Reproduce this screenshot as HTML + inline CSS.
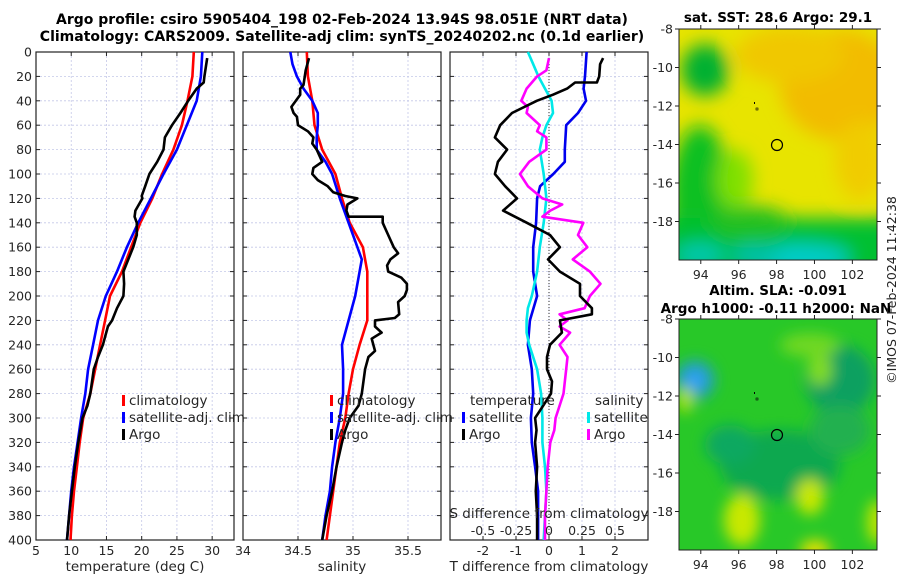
<!DOCTYPE html>
<html><head><meta charset="utf-8"><style>
html,body{margin:0;padding:0;background:#fff;}
svg{display:block;font-family:"DejaVu Sans","Liberation Sans",sans-serif;}
</style></head><body>
<svg id="fig" width="900" height="580" viewBox="0 0 900 580" xmlns="http://www.w3.org/2000/svg">
<defs>
<filter id="blur1" x="-20%" y="-20%" width="140%" height="140%"><feGaussianBlur stdDeviation="9"/></filter>
<filter id="blur2" x="-20%" y="-20%" width="140%" height="140%"><feGaussianBlur stdDeviation="7"/></filter>
<clipPath id="cm1"><rect x="679" y="29" width="198" height="231"/></clipPath>
<clipPath id="cm2"><rect x="679" y="319" width="198" height="231"/></clipPath>
</defs>
<text x="342" y="24" text-anchor="middle" font-size="14" font-weight="bold">Argo profile: csiro 5905404_198 02-Feb-2024 13.94S 98.051E (NRT data)</text>
<text x="342" y="41" text-anchor="middle" font-size="14" font-weight="bold">Climatology: CARS2009. Satellite-adj clim: synTS_20240202.nc (0.1d earlier)</text>

<g clip-path="url(#cm1)">
<rect x="679" y="29" width="198" height="231" fill="#e8e400"/>
<g filter="url(#blur1)">
<ellipse cx="840" cy="85" rx="60" ry="55" fill="#f2bc00"/>
<ellipse cx="790" cy="55" rx="55" ry="28" fill="#f0c800"/>
<ellipse cx="860" cy="160" rx="25" ry="40" fill="#f0cc00"/>
<ellipse cx="705" cy="70" rx="24" ry="26" fill="#00b030"/>
<ellipse cx="700" cy="195" rx="30" ry="70" fill="#10c020"/>
<ellipse cx="735" cy="180" rx="18" ry="30" fill="#80e000"/>
<rect x="660" y="218" width="240" height="60" fill="#00c030"/>
<ellipse cx="750" cy="222" rx="40" ry="16" fill="#20c020"/>
<ellipse cx="800" cy="258" rx="50" ry="14" fill="#00cccc"/>
<ellipse cx="700" cy="255" rx="25" ry="12" fill="#00c8b0"/>
<ellipse cx="755" cy="255" rx="25" ry="10" fill="#00c0b0"/>
</g>
<circle cx="777" cy="145" r="5.5" fill="none" stroke="#000" stroke-width="1.2"/>
<rect x="754" y="102" width="1" height="2" fill="#000"/><rect x="756" y="108" width="2" height="2" fill="none" stroke="#000" stroke-width="0.6"/>
</g>
<rect x="679" y="29" width="198" height="231" fill="none" stroke="#222" stroke-width="1"/>
<text x="778" y="22" text-anchor="middle" font-size="13.5" font-weight="bold">sat. SST: 28.6 Argo: 29.1</text>

<g clip-path="url(#cm2)">
<rect x="679" y="319" width="198" height="231" fill="#28c828"/>
<g filter="url(#blur2)">
<ellipse cx="695" cy="380" rx="20" ry="20" fill="#20a0c0"/>
<ellipse cx="695" cy="380" rx="9" ry="9" fill="#30a0ff"/>
<ellipse cx="840" cy="380" rx="35" ry="35" fill="#10a060"/>
<ellipse cx="780" cy="465" rx="60" ry="35" fill="#10a850"/>
<ellipse cx="730" cy="445" rx="25" ry="20" fill="#10a860"/>
<ellipse cx="810" cy="345" rx="30" ry="12" fill="#70d820"/>
<ellipse cx="820" cy="370" rx="12" ry="16" fill="#80dc20"/>
<ellipse cx="810" cy="497" rx="14" ry="18" fill="#c8e800"/>
<ellipse cx="742" cy="520" rx="18" ry="26" fill="#c8e800"/>
<ellipse cx="685" cy="400" rx="8" ry="13" fill="#b0e400"/>
<ellipse cx="877" cy="522" rx="10" ry="22" fill="#c0e400"/>
<ellipse cx="815" cy="550" rx="15" ry="10" fill="#e8e000"/>
<ellipse cx="840" cy="430" rx="30" ry="25" fill="#20b050"/>
</g>
<circle cx="777" cy="435" r="5.5" fill="none" stroke="#000" stroke-width="1.2"/>
<rect x="754" y="392" width="1" height="2" fill="#000"/><rect x="756" y="398" width="2" height="2" fill="none" stroke="#000" stroke-width="0.6"/>
</g>
<rect x="679" y="319" width="198" height="231" fill="none" stroke="#222" stroke-width="1"/>
<text x="778" y="295" text-anchor="middle" font-size="13.5" font-weight="bold">Altim. SLA: -0.091</text>
<text x="776" y="313" text-anchor="middle" font-size="13.5" font-weight="bold">Argo h1000: -0.11 h2000: NaN</text>
<text transform="translate(896,290) rotate(-90)" text-anchor="middle" font-size="12.5" fill="#222">©IMOS 07-Feb-2024 11:42:38</text>
</svg>
<script>
// ---- data ----
const depthTicks = [0,20,40,60,80,100,120,140,160,180,200,220,240,260,280,300,320,340,360,380,400];
const tempTicks = [5,10,15,20,25,30];
const salTicks = [34,34.5,35,35.5];
const salTickLabels = ["34","34.5","35","35.5"];
const dTTicks = [-2,-1,0,1,2];
const dSTickLabels = ["-0.5","-0.25","0","0.25","0.5"];
const lonTicks = [94,96,98,100,102];
const latTicks = [-8,-10,-12,-14,-16,-18];

const climDepth = [0,20,40,60,80,100,120,140,160,180,200,220,240,260,280,300,320,340,360,380,400];
const climTemp = [27.4,27.2,26.5,25.7,24.5,22.9,21.5,19.8,18.5,17.2,15.5,14.8,14.1,13.4,12.7,11.7,11.2,10.8,10.4,10.1,9.9];
const satTemp = [28.6,28.4,27.8,26.4,25.0,23.1,21.3,19.5,17.9,16.5,14.9,13.8,13.1,12.4,12.0,11.4,10.9,10.4,10.0,9.7,9.4];
const climSal = [34.58,34.59,34.63,34.65,34.72,34.84,34.90,34.97,35.09,35.13,35.13,35.13,35.06,35.00,34.96,34.93,34.88,34.85,34.82,34.79,34.76];
const satSalDepth = [0,10,20,30,40,50,60,70,80,90,100,120,140,160,170,180,200,220,240,260,280,300,320,340,360,380,400];
const satSal = [34.43,34.45,34.49,34.55,34.63,34.68,34.68,34.67,34.67,34.75,34.81,34.88,34.96,35.04,35.08,35.06,35.02,34.96,34.90,34.91,34.91,34.88,34.84,34.81,34.79,34.75,34.72];

const argoTDepth = [5,20,25,30,40,50,60,70,80,90,100,110,118,120,130,135,140,150,160,170,180,190,200,210,220,225,240,250,260,280,290,300,320,340,360,380,400];
const argoTemp = [29.3,28.9,28.8,27.8,26.6,25.5,24.3,23.3,23.1,22.2,21.1,20.5,20.0,20.1,19.1,19.0,19.3,19.3,18.8,18.1,17.4,17.5,17.4,16.5,15.8,15.2,14.5,13.8,13.2,12.7,12.3,11.6,11.0,10.5,10.1,9.7,9.4];

const argoSDepth = [5,15,27,30,35,45,50,53,60,65,70,75,80,90,95,100,105,110,115,118,120,125,130,135,135,140,150,160,165,170,175,180,185,190,195,200,205,215,218,220,225,230,235,245,250,260,280,290,300,310,320,340,360,380,400];
const argoSal = [34.60,34.57,34.55,34.52,34.52,34.44,34.46,34.49,34.50,34.59,34.64,34.63,34.67,34.72,34.64,34.63,34.68,34.77,34.82,34.93,35.04,34.95,34.94,34.96,35.27,35.27,35.32,35.37,35.41,35.34,35.31,35.32,35.44,35.49,35.49,35.47,35.41,35.42,35.38,35.20,35.20,35.26,35.17,35.20,35.14,35.11,35.08,35.05,34.97,34.93,34.90,34.85,34.81,34.76,34.72];

const satDTDepth = [0,20,30,40,50,60,70,80,90,100,110,120,140,160,180,200,220,240,260,280,300,320,340,360,380,400];
const satDT = [1.14,1.09,1.05,1.12,0.88,0.52,0.50,0.48,0.48,0.13,-0.27,-0.36,-0.39,-0.48,-0.48,-0.36,-0.58,-0.64,-0.52,-0.48,-0.55,-0.52,-0.42,-0.33,-0.33,-0.33];
const argoDTDepth = [5,10,20,25,25,30,35,40,50,60,70,80,90,100,110,120,130,140,150,160,170,180,190,200,210,215,220,230,240,250,260,270,280,290,300,310,320,340,360,380,400];
const argoDT = [1.64,1.55,1.52,1.45,0.79,0.55,0.12,-0.37,-1.12,-1.48,-1.64,-1.27,-1.55,-1.64,-1.33,-0.97,-1.39,-0.67,0.03,0.33,-0.03,0.33,0.94,0.94,1.30,1.30,0.33,0.39,0.03,-0.06,-0.06,0.09,0.06,-0.18,-0.42,-0.38,-0.42,-0.36,-0.40,-0.36,-0.36];
const satDSDepth = [0,10,20,30,40,50,60,70,80,100,120,140,160,180,200,210,220,230,240,260,280,300,320,340,360,380,400];
const satDS = [-0.16,-0.12,-0.08,-0.03,0.02,0.03,-0.02,-0.05,-0.07,-0.04,-0.02,-0.04,-0.07,-0.09,-0.13,-0.16,-0.17,-0.17,-0.15,-0.09,-0.06,-0.05,-0.05,-0.03,-0.02,-0.03,-0.04];
const argoDSDepth = [5,15,20,30,40,45,50,60,65,70,80,90,100,110,120,125,130,135,140,150,160,170,180,190,200,210,215,220,225,230,240,250,260,280,300,310,320,340,360,380,400];
const argoDS = [0.0,-0.02,-0.09,-0.17,-0.21,-0.16,-0.17,-0.07,-0.09,-0.02,-0.02,-0.15,-0.22,-0.16,-0.05,0.10,0.01,-0.05,0.26,0.22,0.29,0.18,0.31,0.39,0.31,0.27,0.08,0.14,0.08,0.16,0.08,0.14,0.13,0.11,0.05,0.04,0.01,-0.01,-0.02,-0.03,-0.03];

// ---- layout ----
const NS = "http://www.w3.org/2000/svg";
const svg = document.getElementById('fig');
const Y0 = 52, Y1 = 540;
const yD = d => Y0 + (d / 400) * (Y1 - Y0);
const P1 = {x0:36, x1:234, min:5, max:33.1};
const P2 = {x0:243, x1:441, min:34, max:35.8};
const P3 = {x0:450, x1:648, min:-3, max:3};
const sx = (p, v) => p.x0 + (v - p.min) / (p.max - p.min) * (p.x1 - p.x0);
const dsx = v => sx(P3, v * 4);

function mk(tag, attrs, parent) {
  const e = document.createElementNS(NS, tag);
  for (const k in attrs) e.setAttribute(k, attrs[k]);
  (parent || svg).appendChild(e);
  return e;
}
function txt(x, y, s, size, anchor, parent) {
  const t = mk('text', {x:x, y:y, 'font-size':size, 'text-anchor':anchor || 'middle', fill:'#262626'}, parent);
  t.textContent = s;
  return t;
}

function panel(p, name, xTickVals, xTickLabels, xTitle, showDepth) {
  const g = mk('g', {});
  
  
  depthTicks.forEach(d => {
    if (d === 0 || d === 400) return;
    const l = mk('line', {x1:p.x0, x2:p.x1, y1:yD(d), y2:yD(d), stroke:'#c4c8e8', 'stroke-width':0.8, 'stroke-dasharray':'2,2'}, g);
    
    
  });
  xTickVals.forEach(v => {
    const x = p.fx(v);
    if (x <= p.x0 + 1 || x >= p.x1 - 1) return;
    const l = mk('line', {x1:x, x2:x, y1:Y0, y2:Y1, stroke:'#c4c8e8', 'stroke-width':0.8, 'stroke-dasharray':'2,2'}, g);
    
    
  });
  depthTicks.forEach(d => {
    mk('line', {x1:p.x0, x2:p.x0 + 4, y1:yD(d), y2:yD(d), stroke:'#222'}, g);
    mk('line', {x1:p.x1, x2:p.x1 - 4, y1:yD(d), y2:yD(d), stroke:'#222'}, g);
    if (showDepth) {
      const t = txt(p.x0 - 4, yD(d) + 4.5, String(d), 12.5, 'end', g);
      
      
    }
  });
  xTickVals.forEach((v, i) => {
    const x = p.fx(v);
    mk('line', {x1:x, x2:x, y1:Y1, y2:Y1 - 4, stroke:'#222'}, g);
    mk('line', {x1:x, x2:x, y1:Y0, y2:Y0 + 4, stroke:'#222'}, g);
    const t = txt(x, Y1 + 15, xTickLabels[i], 12.5, 'middle', g);
    
    
  });
  const fr = mk('rect', {x:p.x0, y:Y0, width:p.x1 - p.x0, height:Y1 - Y0, fill:'none', stroke:'#222', 'stroke-width':1.2}, g);
  
  
  const xt = txt((p.x0 + p.x1) / 2, 571, xTitle, 13.5, 'middle', g);
  
  
  return g;
}
function line(g, depths, vals, fx, color, name) {
  const pts = depths.map((d, i) => fx(vals[i]).toFixed(1) + ',' + yD(d).toFixed(1)).join(' ');
  const pl = mk('polyline', {points:pts, fill:'none', stroke:color, 'stroke-width':2.6, 'stroke-linejoin':'round'}, g);
  
  
}
function legendEntry(g, x, y, color, label) {
  const m = mk('rect', {x:x, y:y - 10, width:3, height:11, fill:color}, g);
  
  
  const t = txt(x + 7, y, label, 13.5, 'start', g);
  
  
}

P1.fx = v => sx(P1, v);
const g1 = panel(P1, 'temperature-panel', tempTicks, tempTicks.map(String), 'temperature (deg C)', true);
line(g1, climDepth, climTemp, P1.fx, '#ff0000', 'climatology-temperature-line');
line(g1, climDepth, satTemp, P1.fx, '#0000ff', 'satellite-temperature-line');
line(g1, argoTDepth, argoTemp, P1.fx, '#000000', 'argo-temperature-line');
legendEntry(g1, 122, 405, '#ff0000', 'climatology');
legendEntry(g1, 122, 422, '#0000ff', 'satellite-adj. clim');
legendEntry(g1, 122, 439, '#000000', 'Argo');

P2.fx = v => sx(P2, v);
const g2 = panel(P2, 'salinity-panel', salTicks, salTickLabels, 'salinity', false);
line(g2, climDepth, climSal, P2.fx, '#ff0000', 'climatology-salinity-line');
line(g2, satSalDepth, satSal, P2.fx, '#0000ff', 'satellite-salinity-line');
line(g2, argoSDepth, argoSal, P2.fx, '#000000', 'argo-salinity-line');
legendEntry(g2, 330, 405, '#ff0000', 'climatology');
legendEntry(g2, 330, 422, '#0000ff', 'satellite-adj. clim');
legendEntry(g2, 330, 439, '#000000', 'Argo');

P3.fx = v => sx(P3, v);
const g3 = panel(P3, 'difference-panel', dTTicks, dTTicks.map(String), 'T difference from climatology', false);
const zl = mk('line', {x1:P3.fx(0), x2:P3.fx(0), y1:Y0, y2:Y1, stroke:'#333', 'stroke-width':1, 'stroke-dasharray':'1,2'}, g3);


line(g3, satDTDepth, satDT, P3.fx, '#0000ee', 'satellite-temperature-difference-line');
line(g3, satDSDepth, satDS, dsx, '#00e8e8', 'satellite-salinity-difference-line');
line(g3, argoDSDepth, argoDS, dsx, '#ff00ff', 'argo-salinity-difference-line');
line(g3, argoDTDepth, argoDT, P3.fx, '#000000', 'argo-temperature-difference-line');
const lt = txt(470, 405, 'temperature', 13.5, 'start', g3);


const ls = txt(595, 405, 'salinity', 13.5, 'start', g3);


legendEntry(g3, 462, 422, '#0000ff', 'satellite');
legendEntry(g3, 462, 439, '#000000', 'Argo');
legendEntry(g3, 587, 422, '#00e8e8', 'satellite');
legendEntry(g3, 587, 439, '#ff00ff', 'Argo');
const sdt = txt(549, 518, 'S difference from climatology', 13.5, 'middle', g3);


dSTickLabels.forEach((s, i) => {
  const t = txt(P3.fx(dTTicks[i]), 535, s, 12.5, 'middle', g3);
  
  
});

const lonX = v => 679 + (v - 92.85) / (103.3 - 92.85) * 198;
function mapAxes(top, name) {
  const g = mk('g', {});
  
  
  const latY = v => top + (-8 - v) / 12 * 231;
  latTicks.forEach(v => {
    const y = latY(v);
    mk('line', {x1:679, x2:675, y1:y, y2:y, stroke:'#222'}, g);
    mk('line', {x1:877, x2:881, y1:y, y2:y, stroke:'#222'}, g);
    const t = txt(673, y + 4.5, String(v), 12.5, 'end', g);
    
    
  });
  lonTicks.forEach(v => {
    const x = lonX(v);
    mk('line', {x1:x, x2:x, y1:top + 231, y2:top + 235, stroke:'#222'}, g);
    mk('line', {x1:x, x2:x, y1:top, y2:top - 4, stroke:'#222'}, g);
    const t = txt(x, top + 250, String(v), 12.5, 'middle', g);
    
    
  });
}
mapAxes(29, 'sst-map-axes');
mapAxes(319, 'sla-map-axes');
</script>
</body></html>
